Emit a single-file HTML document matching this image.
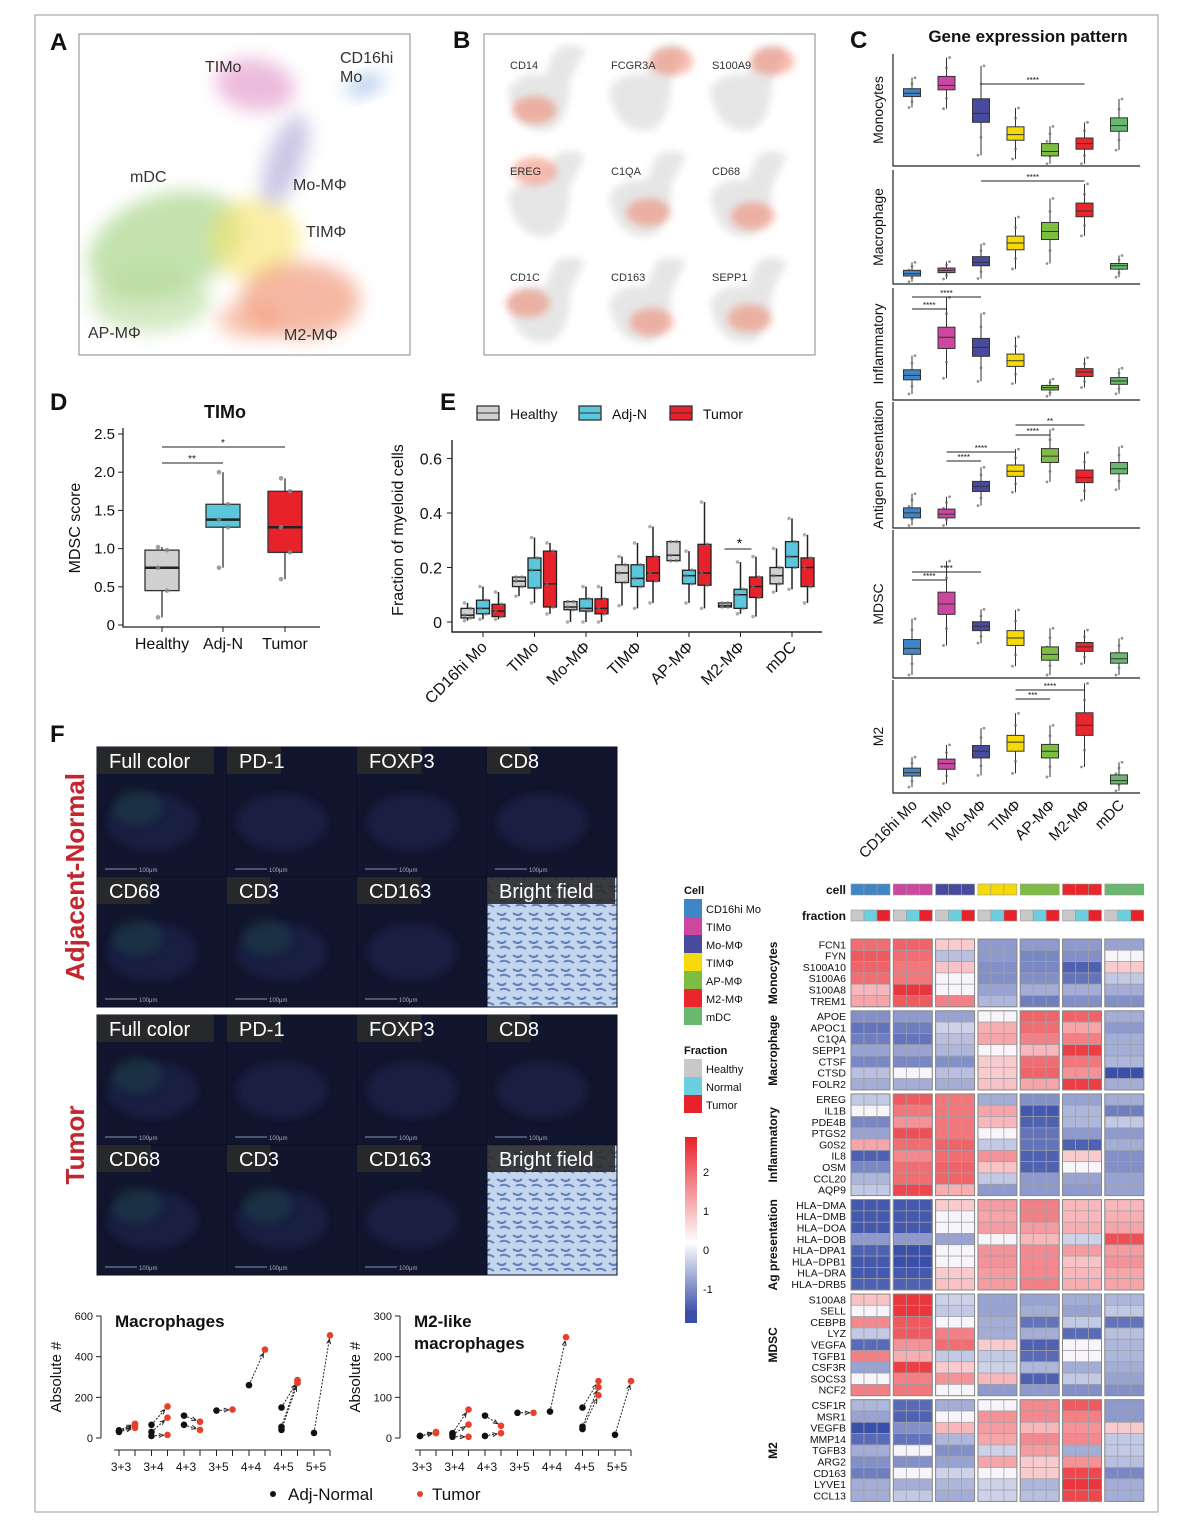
<!DOCTYPE html>
<html><head><meta charset="utf-8">
<style>
html,body{margin:0;padding:0;background:#fff}
svg{display:block;font-family:"Liberation Sans",sans-serif}
</style></head>
<body>
<svg id="fig" width="1204" height="1531" viewBox="0 0 1204 1531" xmlns="http://www.w3.org/2000/svg">
<defs>
<filter id="blur8" x="-50%" y="-50%" width="200%" height="200%"><feGaussianBlur stdDeviation="9"/></filter>
<filter id="blur4" x="-50%" y="-50%" width="200%" height="200%"><feGaussianBlur stdDeviation="4"/></filter>
<linearGradient id="cbar" x1="0" y1="0" x2="0" y2="1">
<stop offset="0" stop-color="#e8222a"/><stop offset="0.6" stop-color="#fff"/><stop offset="1" stop-color="#3a4fa8"/></linearGradient>
<pattern id="bf" width="16" height="14" patternUnits="userSpaceOnUse"><rect width="16" height="14" fill="#c4d6ee"/><path d="M1 3 q5 4 9 0 M4 10 q4 -3 10 1" stroke="#5f80bb" stroke-width="2" fill="none"/></pattern>
</defs>
<rect x="35" y="15" width="1123" height="1497" fill="none" stroke="#999"/>
<g id="root"></g>
</svg>
<script>
// ---------- DATA ----------
const cellTypes=["CD16hi Mo","TIMo","Mo-MΦ","TIMΦ","AP-MΦ","M2-MΦ","mDC"];
const cellColors=["#3f86c6","#cc479f","#464b9e","#f5d90a","#7dbe42","#e8262b","#68b96f"];
// Panel C: [q1, median, q3] per cell type (fraction of panel height)
const cPanels=["Monocytes","Macrophage","Inflammatory","Antigen presentation","MDSC","M2"];
const cMono=[[.62,.65,.69],[.68,.72,.80],[.39,.47,.60],[.23,.28,.35],[.09,.13,.20],[.15,.20,.25],[.31,.36,.43]];
const cMacro=[[.07,.09,.12],[.10,.12,.14],[.16,.19,.24],[.30,.36,.42],[.39,.46,.54],[.59,.64,.71],[.13,.16,.18]];
const cInfl=[[.18,.22,.27],[.46,.56,.65],[.39,.47,.55],[.30,.35,.41],[.09,.11,.13],[.21,.25,.28],[.14,.17,.20]];
const cAg=[[.08,.12,.16],[.08,.11,.15],[.29,.33,.37],[.41,.45,.50],[.52,.57,.63],[.36,.40,.46],[.43,.47,.52]];
const cMdsc=[[.16,.20,.26],[.43,.50,.58],[.32,.35,.38],[.22,.27,.32],[.12,.16,.21],[.18,.21,.24],[.10,.13,.17]];
const cM2=[[.15,.18,.22],[.21,.26,.30],[.31,.37,.42],[.37,.45,.51],[.31,.37,.43],[.51,.60,.71],[.08,.11,.16]];
// Panel D
const dGroups=["Healthy","Adj-N","Tumor"];
const dBoxes=[[0.45,0.75,0.98,0.1,1.02],[1.28,1.38,1.58,0.75,2.0],[0.95,1.28,1.75,0.6,1.92]];
const dTicks=[0,0.5,1.0,1.5,2.0,2.5];
// Panel E: per cell type, [Healthy, Adj-N, Tumor] each [q1,med,q3,lo,hi]
const eHealthy=[[.015,.025,.05,.005,.07],[.13,.15,.165,.095,.165],[.045,.055,.075,.0,.075],[.145,.18,.21,.06,.24],[.225,.245,.295,.225,.295],[.055,.06,.07,.055,.07],[.14,.17,.20,.11,.27]];
const eAdj=[[.03,.05,.08,.01,.13],[.125,.19,.235,.07,.31],[.04,.05,.085,.0,.13],[.13,.16,.21,.05,.29],[.14,.17,.19,.07,.26],[.05,.10,.12,.03,.22],[.20,.24,.295,.12,.38]];
const eTumor=[[.02,.04,.065,.01,.11],[.055,.14,.26,.03,.29],[.03,.05,.085,.0,.13],[.15,.18,.24,.07,.35],[.135,.18,.285,.05,.44],[.09,.13,.165,.02,.24],[.13,.20,.235,.07,.32]];
const eTicks=[0,0.2,0.4,0.6];
// Panel F bottom charts: groups & [adj, tumor] pairs
const pairGroups=["3+3","3+4","4+3","3+5","4+4","4+5","5+5"];
const macPairs=[[[35,60],[30,50],[38,70]],[[65,155],[30,100],[10,15]],[[110,80],[65,40]],[[135,140]],[[260,435]],[[150,280],[55,285],[40,270]],[[25,505]]];
const m2Pairs=[[[5,15],[5,12]],[[12,70],[8,33],[3,3]],[[55,30],[5,12]],[[62,62]],[[65,248]],[[75,140],[28,125],[22,105]],[[8,140]]];
const macTicks=[0,200,400,600];
const m2Ticks=[0,100,200,300];
// Heatmap
const hmGroups=["Monocytes","Macrophage","Inflammatory","Ag presentation","MDSC","M2"];
const hmGenes=[["FCN1","FYN","S100A10","S100A6","S100A8","TREM1"],["APOE","APOC1","C1QA","SEPP1","CTSF","CTSD","FOLR2"],["EREG","IL1B","PDE4B","PTGS2","G0S2","IL8","OSM","CCL20","AQP9"],["HLA−DMA","HLA−DMB","HLA−DOA","HLA−DOB","HLA−DPA1","HLA−DPB1","HLA−DRA","HLA−DRB5"],["S100A8","SELL","CEBPB","LYZ","VEGFA","TGFB1","CSF3R","SOCS3","NCF2"],["CSF1R","MSR1","VEGFB","MMP14","TGFB3","ARG2","CD163","LYVE1","CCL13"]];
const hmMono=[[1.2,1.3,0.2,-0.8,-0.8,-0.8,-0.7],[1.4,1.2,-0.4,-0.8,-1.0,-0.9,0.1],[1.3,1.1,0.3,-0.9,-1.0,-1.4,0.2],[1.2,1.1,0.1,-0.9,-0.9,-1.2,-0.3],[0.4,1.8,0.0,-0.7,-0.6,-0.6,-0.6],[0.6,1.4,1.0,-0.5,-1.1,-0.9,-0.9]];
const hmMacro=[[-0.9,-0.8,-0.7,0.1,1.3,1.3,-0.6],[-1.2,-1.1,-0.2,0.5,1.2,0.6,-0.8],[-1.1,-1.2,-0.4,0.6,1.0,1.0,-0.6],[-0.7,-0.7,-0.5,0.1,0.4,1.7,-0.6],[-1.0,-1.0,-0.9,0.2,1.2,1.1,-0.5],[-0.4,0.0,-0.4,0.2,1.3,0.8,-1.6],[-0.6,-0.6,-0.6,0.3,0.6,1.7,-0.6]];
const hmInfl=[[-0.3,1.4,1.1,-0.6,-0.9,-0.7,-0.6],[-0.1,1.1,1.1,0.6,-1.5,-0.5,-1.1],[-1.0,0.8,1.1,0.4,-1.4,-0.5,-0.3],[-0.7,1.5,1.1,0.0,-1.2,-0.8,-0.8],[0.6,1.2,1.3,-0.3,-1.2,-1.4,-0.6],[-1.4,0.9,1.2,0.8,-1.4,0.2,-0.9],[-1.0,1.2,1.3,0.3,-1.4,0.0,-0.9],[-0.5,1.2,1.3,-0.3,-0.8,-0.7,-0.7],[-0.3,1.6,0.5,-0.8,-0.8,-0.8,-0.7]];
const hmAg=[[-1.5,-1.5,0.2,0.7,1.0,0.4,0.4],[-1.5,-1.5,0.0,0.6,1.0,0.4,0.5],[-1.5,-1.5,0.0,0.7,0.7,0.5,0.6],[-0.8,-0.8,-0.7,0.0,0.4,-0.2,1.5],[-1.4,-1.6,0.0,0.8,0.9,0.7,0.7],[-1.5,-1.6,0.1,0.8,0.9,0.3,0.8],[-1.5,-1.5,0.2,0.7,0.9,0.4,0.6],[-1.4,-1.4,0.3,0.7,1.0,0.5,0.6]];
const hmMdsc=[[0.3,1.8,-0.2,-0.7,-0.7,-0.6,-0.5],[-0.1,1.8,-0.3,-0.7,-0.6,-0.7,-0.3],[0.9,1.4,0.1,-0.6,-1.2,-0.3,-1.2],[-0.3,1.4,1.0,-0.6,-0.6,-1.3,-0.4],[-1.3,0.8,1.2,0.2,-1.4,0.1,-0.5],[1.0,0.5,-0.3,-0.3,-1.3,-0.1,-0.5],[-0.7,1.7,0.2,-0.2,-0.5,-0.6,-0.6],[0.0,1.0,0.8,0.4,-1.4,-0.3,-0.7],[1.0,1.1,0.0,-0.8,-0.8,-0.9,-0.9]];
const hmM2=[[-0.5,-1.3,-0.6,0.1,0.9,1.4,-0.8],[-0.7,-1.4,-0.1,0.8,0.9,1.0,-0.8],[-1.6,-0.9,0.4,0.7,0.4,0.8,0.2],[-1.3,-1.2,-0.5,0.6,0.9,0.9,-0.3],[-0.6,0.0,-0.9,-0.2,0.7,-0.6,-0.3],[-0.9,-0.9,-0.7,0.6,0.2,0.8,-0.4],[-1.1,-0.1,-0.2,0.1,0.2,1.6,-1.0],[-0.6,-0.6,-0.5,-0.2,-0.5,1.8,-0.6],[-0.6,-0.3,-0.6,-0.2,-0.4,1.6,-0.6]];
const fracColors=["#c8c8c8","#6ccfe0","#e8222a"];

// ---------- helpers ----------
const NS="http://www.w3.org/2000/svg";
const root=document.getElementById("root");
function mk(tag,attrs,parent){const e=document.createElementNS(NS,tag);for(const k in attrs)e.setAttribute(k,attrs[k]);(parent||root).appendChild(e);return e;}
function txt(x,y,s,attrs,parent){const e=mk("text",Object.assign({x:x,y:y,"font-size":14,fill:"#111"},attrs||{}),parent);e.textContent=s;return e;}
function grp(name){const g=mk("g",{});return g;}

// ---------- panel letters ----------
[["A",50,50],["B",453,48],["C",850,48],["D",50,410],["E",440,410],["F",50,742]].forEach(p=>{
  const t=txt(p[1],p[2],p[0],{"font-size":24,"font-weight":"bold"});
  
  
});

// ---------- Panel A UMAP ----------
(function(){
  const g=grp("umap-panel-a");
  const fr=mk("rect",{x:79,y:34,width:331,height:321,fill:"#fff",stroke:"#888"},g);
  
  const blobs=[["#9ccf7a",165,245,80,50,-20],["#b7da9a",150,300,60,32,0],["#f7e36a",255,240,45,42,0],["#ef8a68",300,300,60,38,0],["#f2a080",250,320,32,18,0],["#a9a3d4",285,160,18,48,20],["#e08fc6",255,85,40,26,10],["#7fa8dc",365,85,20,9,-20]];
  blobs.forEach(b=>{const e=mk("ellipse",{cx:b[1],cy:b[2],rx:b[3],ry:b[4],fill:b[0],opacity:0.6,filter:"url(#blur8)",transform:`rotate(${b[5]} ${b[1]} ${b[2]})`},g);});
  [["TIMo",205,72],["CD16hi",340,63],["Mo",340,82],["mDC",130,182],["Mo-MΦ",293,190],["TIMΦ",306,237],["AP-MΦ",88,338],["M2-MΦ",284,340]].forEach(l=>{const t=txt(l[1],l[2],l[0],{"font-size":16,fill:"#333"},g);});
})();

// ---------- Panel B feature plots ----------
(function(){
  const g=grp("feature-plots-panel-b");
  const fr=mk("rect",{x:484,y:34,width:331,height:321,fill:"#fff",stroke:"#888"},g);
  
  const genes=["CD14","FCGR3A","S100A9","EREG","C1QA","CD68","CD1C","CD163","SEPP1"];
  const hot=[[0.3,0.8],[0.85,0.15],[0.85,0.15],[0.3,0.2],[0.5,0.75],[0.55,0.8],[0.2,0.55],[0.55,0.8],[0.5,0.75]];
  genes.forEach((gn,i)=>{
    const ox=500+(i%3)*101, oy=40+Math.floor(i/3)*106;
    const s=mk("g",{},g);
    mk("path",{d:`M${ox+8} ${oy+50} Q${ox+20} ${oy+30} ${ox+45} ${oy+35} L${ox+55} ${oy+10} Q${ox+70} ${oy} ${ox+85} ${oy+10} L${ox+70} ${oy+40} Q${ox+70} ${oy+80} ${ox+50} ${oy+90} Q${ox+15} ${oy+95} ${ox+8} ${oy+50}Z`,fill:"#e6e6e6",filter:"url(#blur4)"},s);
    mk("ellipse",{cx:ox+15+hot[i][0]*65,cy:oy+10+hot[i][1]*75,rx:22,ry:14,fill:"#f07a62",opacity:0.5,filter:"url(#blur4)"},s);
    txt(ox+10,oy+29,gn,{"font-size":11,fill:"#333"},s);
  });
})();

// ---------- Panel C ----------
(function(){
  const g=grp("gene-expression-panel-c");
  const t=txt(1028,42,"Gene expression pattern",{"font-size":17,"font-weight":"bold","text-anchor":"middle"},g);
  
  const data=[cMono,cMacro,cInfl,cAg,cMdsc,cM2];
  const tops=[54,170,288,402,530,680], bots=[166,284,400,528,678,793];
  const xs=i=>912+i*34.5;
  const sig=[[[2,5,"****",84]],[[2,5,"****",181]],[[0,2,"****",297],[0,1,"****",309]],[[3,5,"**",425],[3,4,"****",435],[1,3,"****",452],[1,2,"****",461]],[[0,2,"****",572],[0,1,"****",580]],[[3,5,"****",690],[3,4,"***",699]]];
  data.forEach((arr,p)=>{
    const sg=mk("g",{},g);
    const top=tops[p],bot=bots[p],h=bot-top;
    const y=v=>bot-v*h;
    mk("path",{d:`M893 ${top} V${bot} H1140`,stroke:"#222",fill:"none","stroke-width":1.2},sg);
    const lab=txt(883,(top+bot)/2,cPanels[p],{"font-size":14,"text-anchor":"middle",transform:`rotate(-90 883 ${(top+bot)/2})`},sg);
    
    arr.forEach((b,i)=>{
      const x=xs(i);
      const lo=Math.max(0.02,b[0]-(b[2]-b[0])*1.4), hi=Math.min(0.97,b[2]+(b[2]-b[0])*1.4);
      const w=mk("line",{x1:x,x2:x,y1:y(lo),y2:y(hi),stroke:"#333"},sg);
      for(let k=0;k<6;k++){const v=lo+(hi-lo)*k/5;mk("circle",{cx:x+((k%3)-1)*3,cy:y(v),r:1.4,fill:"#666",opacity:0.7},sg);}
      const r=mk("rect",{x:x-8.5,y:y(b[2]),width:17,height:Math.max(2,y(b[0])-y(b[2])),fill:cellColors[i],stroke:"#333"},sg);
      
      mk("line",{x1:x-8.5,x2:x+8.5,y1:y(b[1]),y2:y(b[1]),stroke:"#333"},sg);
    });
    sig[p].forEach(s=>{mk("line",{x1:xs(s[0]),x2:xs(s[1]),y1:s[3],y2:s[3],stroke:"#222"},sg);txt((xs(s[0])+xs(s[1]))/2,s[3]-1,s[2],{"font-size":8,"text-anchor":"middle"},sg);});
  });
  cellTypes.forEach((c,i)=>{const l=txt(xs(i)+6,806,c,{"font-size":15,"text-anchor":"end",transform:`rotate(-45 ${xs(i)+6} 806)`},g);});
})();

// ---------- Panel D ----------
(function(){
  const g=grp("mdsc-score-panel-d");
  const y=v=>625-v*76.4, xs=[162,223,285];
  txt(225,418,"TIMo",{"font-size":18,"font-weight":"bold","text-anchor":"middle"},g);
  mk("path",{d:"M123 428 V627 H320",stroke:"#222",fill:"none","stroke-width":1.3},g);
  dTicks.forEach(t=>{mk("line",{x1:118,x2:123,y1:y(t),y2:y(t),stroke:"#222"},g);const l=txt(115,y(t)+5,String(t===0?0:t.toFixed(1)),{"font-size":15,"text-anchor":"end"},g);});
  const yl=txt(80,528,"MDSC score",{"font-size":16,"text-anchor":"middle",transform:"rotate(-90 80 528)"},g);
  const cols=["#d0d0d0","#5bc7dc","#e8222a"];
  dBoxes.forEach((b,i)=>{
    const x=xs[i];
    mk("line",{x1:x,x2:x,y1:y(b[3]),y2:y(b[4]),stroke:"#333","stroke-width":1.3},g);
    const r=mk("rect",{x:x-17,y:y(b[2]),width:34,height:y(b[0])-y(b[2]),fill:cols[i],stroke:"#333","stroke-width":1.3},g);
    
    mk("line",{x1:x-17,x2:x+17,y1:y(b[1]),y2:y(b[1]),stroke:"#222","stroke-width":2.5},g);
    [b[3],b[0],b[1],b[2],b[4]].forEach((v,k)=>mk("circle",{cx:x+(k%2?5:-4),cy:y(v),r:2.3,fill:"#888",opacity:.8},g));
    mk("line",{x1:x,x2:x,y1:627,y2:632,stroke:"#222"},g);
    const l=txt(x,649,dGroups[i],{"font-size":16,"text-anchor":"middle"},g);
  });
  mk("line",{x1:162,x2:223,y1:463,y2:463,stroke:"#222"},g);txt(192,462,"**",{"font-size":10,"text-anchor":"middle"},g);
  mk("line",{x1:162,x2:285,y1:447,y2:447,stroke:"#222"},g);txt(223,446,"*",{"font-size":10,"text-anchor":"middle"},g);
})();

// ---------- Panel E ----------
(function(){
  const g=grp("myeloid-fraction-panel-e");
  const y=v=>622-v*272.5, cx=i=>483+i*51.5;
  const legend=[["Healthy","#d0d0d0",477],["Adj-N","#5bc7dc",579],["Tumor","#e8222a",670]];
  legend.forEach(l=>{const lg=mk("g",{},g);
    mk("rect",{x:l[2],y:406,width:22,height:14,fill:l[1],stroke:"#333","stroke-width":1.3},lg);mk("line",{x1:l[2],x2:l[2]+22,y1:413,y2:413,stroke:"#333"},lg);
    txt(l[2]+33,419,l[0],{"font-size":14},lg);});
  mk("path",{d:"M452 440 V632 H822",stroke:"#222",fill:"none","stroke-width":1.4},g);
  eTicks.forEach(t=>{mk("line",{x1:447,x2:452,y1:y(t),y2:y(t),stroke:"#222"},g);const l=txt(442,y(t)+6,t===0?"0":t.toFixed(1),{"font-size":16,"text-anchor":"end"},g);});
  const yl=txt(403,530,"Fraction of myeloid cells",{"font-size":16,"text-anchor":"middle",transform:"rotate(-90 403 530)"},g);
  const series=[eHealthy,eAdj,eTumor], cols=["#d0d0d0","#5bc7dc","#e8222a"];
  cellTypes.forEach((c,i)=>{
    series.forEach((s,k)=>{
      const b=s[i], x=cx(i)+(k-1)*15.5;
      mk("line",{x1:x,x2:x,y1:y(b[3]),y2:y(b[4]),stroke:"#222","stroke-width":1.5},g);
      const r=mk("rect",{x:x-6.5,y:y(b[2]),width:13,height:Math.max(2,y(b[0])-y(b[2])),fill:cols[k],stroke:"#222","stroke-width":1.3},g);
      
      mk("line",{x1:x-6.5,x2:x+6.5,y1:y(b[1]),y2:y(b[1]),stroke:"#222","stroke-width":1.5},g);
      [b[3],b[0],b[1],b[2],b[4]].forEach((v,j)=>mk("circle",{cx:x+(j%2?3:-3),cy:y(v),r:1.8,fill:"#777",opacity:.6},g));
    });
    mk("line",{x1:cx(i),x2:cx(i),y1:632,y2:637,stroke:"#222"},g);
    const l=txt(cx(i)+5,648,c,{"font-size":16,"text-anchor":"end",transform:`rotate(-45 ${cx(i)+5} 648)`},g);
  });
  mk("line",{x1:cx(5)-16,x2:cx(5)+11,y1:549,y2:549,stroke:"#222"},g);txt(cx(5)-1,548,"*",{"font-size":14,"text-anchor":"middle"},g);
})();

// ---------- Panel F images ----------
(function(){
  const g=grp("if-images-panel-f");
  const labels=[["Full color","PD-1","FOXP3","CD8"],["CD68","CD3","CD163","Bright field"]];
  [747,1015].forEach((y0,b)=>{
    for(let r=0;r<2;r++)for(let c=0;c<4;c++){
      const x=97+c*130, y=y0+r*130, bright=(r===1&&c===3);
      const cg=mk("g",{},g);
      mk("rect",{x:x,y:y,width:130,height:130,fill:bright?"url(#bf)":"#12152e",stroke:"#0c0e20"},cg);
      if(!bright){mk("ellipse",{cx:x+55,cy:y+75,rx:45,ry:28,fill:"#1f2550",opacity:.6,filter:"url(#blur4)"},cg);
        if(c===0||(r===1&&c===1))mk("ellipse",{cx:x+40,cy:y+60,rx:25,ry:18,fill:"#24504d",opacity:.35,filter:"url(#blur4)"},cg);
        mk("line",{x1:x+8,x2:x+40,y1:y+122,y2:y+122,stroke:"#8890b0"},cg);txt(x+42,y+125,"100μm",{"font-size":6,fill:"#aab"},cg);}
      const w=labels[r][c].length*10.5+12;
      mk("rect",{x:x,y:y,width:Math.min(w,128),height:27,fill:"#2a2a2a",opacity:.9},cg);
      txt(x+12,y+21,labels[r][c],{"font-size":20,fill:"#fff"},cg);
    }
  });
  const a=txt(84,877,"Adjacent-Normal",{"font-size":26,"font-weight":"bold",fill:"#c4262e","text-anchor":"middle",transform:"rotate(-90 84 877)"},g);
  const t=txt(84,1145,"Tumor",{"font-size":26,"font-weight":"bold",fill:"#c4262e","text-anchor":"middle",transform:"rotate(-90 84 1145)"},g);
})();

// ---------- Paired charts ----------
function pairedChart(name,axisX,x0,pairs,ticks,maxV,title){
  const g=grp(name);
  const y=v=>1438-v*(122/maxV);
  const px=(gi,k)=>x0+gi*32.5+k*16;
  mk("line",{x1:axisX,x2:axisX,y1:1316,y2:1438,stroke:"#222"},g);
  ticks.forEach(t=>{mk("line",{x1:axisX-5,x2:axisX,y1:y(t),y2:y(t),stroke:"#222"},g);const l=txt(axisX-8,y(t)+4,String(t),{"font-size":11,"text-anchor":"end"},g);});
  const yl=txt(axisX-40,1377,"Absolute #",{"font-size":15,"text-anchor":"middle",transform:`rotate(-90 ${axisX-40} 1377)`},g);
  mk("line",{x1:px(0,0)-5,x2:px(6,1),y1:1450,y2:1450,stroke:"#222"},g);
  pairGroups.forEach((lab,gi)=>{
    [0,1].forEach(k=>mk("line",{x1:px(gi,k),x2:px(gi,k),y1:1450,y2:1456,stroke:"#222"},g));
    const l=txt(px(gi,0)+2,1471,lab,{"font-size":12,"text-anchor":"middle"},g);
    pairs[gi].forEach(p=>{
      const x1=px(gi,0),x2=px(gi,1),y1=y(p[0]),y2=y(p[1]);
      mk("line",{x1:x1,y1:y1,x2:x2,y2:y2,stroke:"#222","stroke-dasharray":"2,1.5"},g);
      const a=Math.atan2(y2-y1,x2-x1), ax=x2-4*Math.cos(a), ay=y2-4*Math.sin(a);
      mk("path",{d:`M${ax} ${ay} l${-5*Math.cos(a-0.4)} ${-5*Math.sin(a-0.4)} M${ax} ${ay} l${-5*Math.cos(a+0.4)} ${-5*Math.sin(a+0.4)}`,stroke:"#222"},g);
      const c1=mk("circle",{cx:x1,cy:y1,r:3.3,fill:"#111"},g);
      const c2=mk("circle",{cx:x2,cy:y2,r:3.3,fill:"#e8402a"},g);
    });
  });
  title.forEach((s,i)=>txt(axisX+14,1327+i*22,s,{"font-size":17,"font-weight":"bold"},g));
}
pairedChart("macrophages-chart",101,119,macPairs,macTicks,600,["Macrophages"]);
pairedChart("m2-like-chart",400,420,m2Pairs,m2Ticks,300,["M2-like","macrophages"]);
(function(){const g=grp("paired-legend");
  mk("circle",{cx:273,cy:1494,r:3,fill:"#111"},g);txt(288,1500,"Adj-Normal",{"font-size":17},g);
  mk("circle",{cx:420,cy:1494,r:3,fill:"#e8402a"},g);txt(432,1500,"Tumor",{"font-size":17},g);})();

// ---------- Heatmap ----------
(function(){
  const g=grp("heatmap");
  const data=[hmMono,hmMacro,hmInfl,hmAg,hmMdsc,hmM2];
  const gx=i=>851+i*42.3, cw=13, rh=11.3;
  function col(v){
    const blue=[58,79,168],red=[232,34,42],white=[255,255,255];
    let t,a,b;
    if(v>=0){t=Math.min(1,v/2);a=white;b=red;}else{t=Math.min(1,-v/1.6);a=white;b=blue;}
    t=0.15+0.85*t;
    const c=a.map((x,i)=>Math.round(x+(b[i]-x)*t));
    if(Math.abs(v)<0.15)return "rgb(248,245,250)";
    return `rgb(${c[0]},${c[1]},${c[2]})`;
  }
  const c1=txt(846,894,"cell",{"font-size":12,"font-weight":"bold","text-anchor":"end"},g);
  const c2=txt(846,920,"fraction",{"font-size":12,"font-weight":"bold","text-anchor":"end"},g);
  cellTypes.forEach((c,i)=>{for(let k=0;k<3;k++){
    const a=mk("rect",{x:gx(i)+k*cw,y:884,width:cw,height:11,fill:cellColors[i],stroke:"#999","stroke-width":.6},g);
    const f=mk("rect",{x:gx(i)+k*cw,y:910,width:cw,height:11,fill:fracColors[k],stroke:"#999","stroke-width":.6},g);}});
  let y0=939;
  data.forEach((rows,gi)=>{
    const gh=rows.length*rh;
    const gl=txt(777,y0+gh/2,hmGroups[gi],{"font-size":12,"font-weight":"bold","text-anchor":"middle",transform:`rotate(-90 777 ${y0+gh/2})`},g);
    
    rows.forEach((vals,r)=>{
      const yy=y0+r*rh;
      const lb=txt(846,yy+9.3,hmGenes[gi][r],{"font-size":10.5,"text-anchor":"end"},g);
      vals.forEach((v,ci)=>{for(let k=0;k<3;k++){
        const cell=mk("rect",{x:gx(ci)+k*cw,y:yy,width:cw,height:rh,fill:col(v),stroke:"#a0a0a8","stroke-width":.7},g);
        }});
    });
    cellTypes.forEach((c,ci)=>mk("rect",{x:gx(ci),y:y0,width:3*cw,height:gh,fill:"none",stroke:"#888","stroke-width":1},g));
    y0+=gh+4;
  });
  const lg=grp("heatmap-legend");
  txt(684,894,"Cell",{"font-size":11,"font-weight":"bold"},lg);
  cellTypes.forEach((c,i)=>{const e=mk("g",{},lg);
    mk("rect",{x:684,y:899+i*18,width:18,height:18,fill:cellColors[i]},e);txt(706,913+i*18,c,{"font-size":11},e);});
  txt(684,1054,"Fraction",{"font-size":11,"font-weight":"bold"},lg);
  ["Healthy","Normal","Tumor"].forEach((c,i)=>{const e=mk("g",{},lg);
    mk("rect",{x:684,y:1059+i*18,width:18,height:18,fill:fracColors[i]},e);txt(706,1073+i*18,c,{"font-size":11},e);});
  const cb=mk("rect",{x:685,y:1137,width:12,height:176,fill:"url(#cbar)"},lg);
  mk("rect",{x:685,y:1311,width:12,height:12,fill:"#3a4fa8"},lg);
  [["2",1176],["1",1215],["0",1254],["-1",1293]].forEach(t=>txt(703,t[1],t[0],{"font-size":11},lg));
})();
</script>
</body></html>
